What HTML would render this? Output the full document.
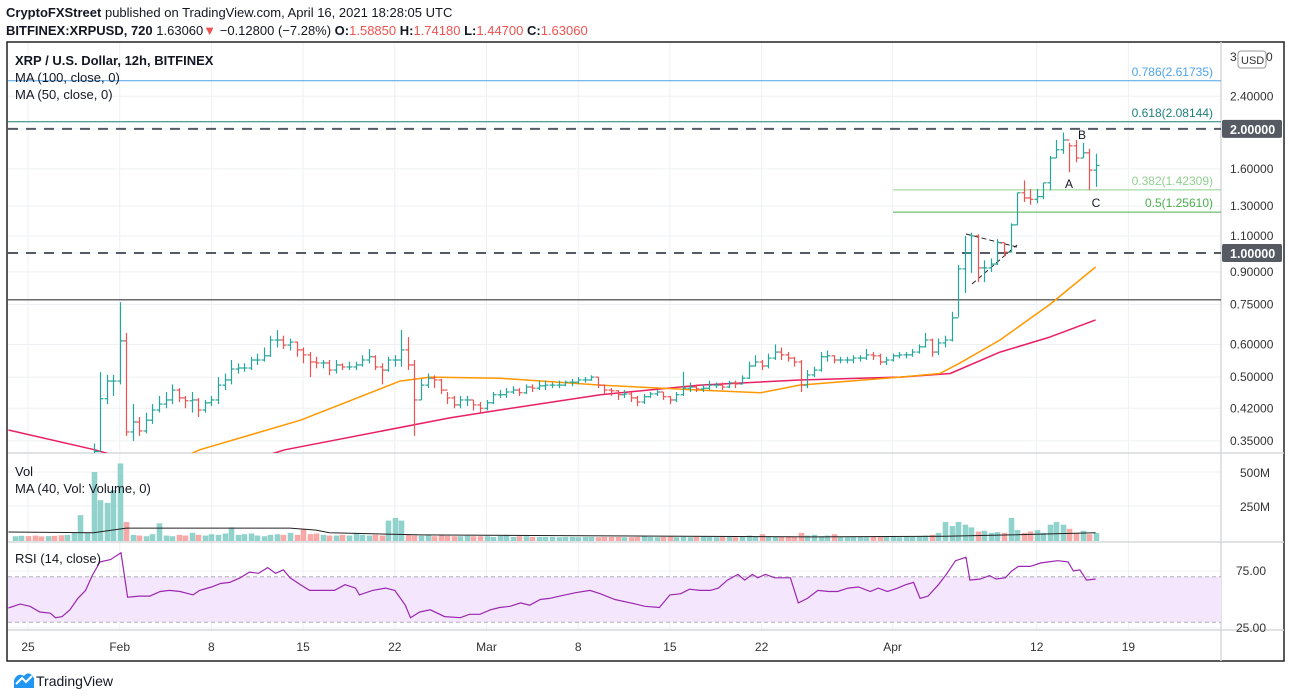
<!DOCTYPE html>
<html><head><meta charset="utf-8"><style>
html,body{margin:0;padding:0;background:#fff;}
svg{display:block;font-family:"Liberation Sans",Arial,sans-serif;}
</style></head><body>
<svg id="chart" width="1291" height="698" viewBox="0 0 1291 698" xmlns="http://www.w3.org/2000/svg">
<defs>
<clipPath id="cp"><rect x="8" y="42" width="1213" height="411"/></clipPath>
<clipPath id="cv"><rect x="8" y="454" width="1213" height="88"/></clipPath>
<clipPath id="cr"><rect x="8" y="543" width="1213" height="87"/></clipPath>
</defs>
<text x="6" y="17" font-size="13" fill="#131722"><tspan font-weight="bold">CryptoFXStreet</tspan> published on TradingView.com, April 16, 2021 18:28:05 UTC</text>
<text x="6" y="35" font-size="13" fill="#131722"><tspan font-weight="bold">BITFINEX:XRPUSD, 720</tspan> 1.63060<tspan fill="#ef5350">▼</tspan> −0.12800 (−7.28%) <tspan font-weight="bold">O:</tspan><tspan fill="#ef5350">1.58850</tspan> <tspan font-weight="bold">H:</tspan><tspan fill="#ef5350">1.74180</tspan> <tspan font-weight="bold">L:</tspan><tspan fill="#ef5350">1.44700</tspan> <tspan font-weight="bold">C:</tspan><tspan fill="#ef5350">1.63060</tspan></text>
<rect x="7" y="42" width="1277" height="619" fill="none" stroke="#222" stroke-width="1.5"/>
<g id="grid"></g>
<g id="panes"></g>
<g id="price" clip-path="url(#cp)"></g>
<g id="vol" clip-path="url(#cv)"></g>
<g id="rsi" clip-path="url(#cr)"></g>
<g id="axes"></g>
<text x="15" y="65" font-size="13" font-weight="bold" fill="#131722">XRP / U.S. Dollar, 12h, BITFINEX</text>
<text x="15" y="82" font-size="13" fill="#131722">MA (100, close, 0)</text>
<text x="15" y="99" font-size="13" fill="#131722">MA (50, close, 0)</text>
<text x="15" y="476" font-size="13" fill="#131722">Vol</text>
<text x="15" y="493" font-size="13" fill="#131722">MA (40, Vol: Volume, 0)</text>
<text x="15" y="563" font-size="13" fill="#131722">RSI (14, close)</text>
<g>
<path d="M14 688 L14 680 Q18 672 24 676 Q29 670 34 678 L34 688 Z" fill="#2196f3"/>
<path d="M16 684 L22 678 L26 682 L32 676" stroke="#fff" stroke-width="2" fill="none"/>
<text x="36" y="686" font-size="14" fill="#131722">TradingView</text>
</g>
</svg>
<script>
// ---- data ----
const lastDay = 81.5; // Apr 16 12:00, days since Jan 25
const closes = [0.28,0.275,0.27,0.265,0.27,0.26,0.255,0.26,0.265,0.27,0.29,0.33,
.443,.489,.489,.612,.368,.389,.37,.393,.416,.43,
.44,.465,.445,.438,.44,.416,.433,.44,.478,.492,
.523,.526,.526,.55,.55,.563,.615,.615,.598,.608,
.582,.566,.544,.541,.541,.52,.535,.529,.529,.535,
.55,.56,.529,.52,.55,.55,.582,.535,.44,.478,
.497,.492,.465,.445,.428,.44,.44,.428,.42,.433,
.453,.453,.46,.465,.458,.473,.47,.476,.478,.478,
.478,.486,.486,.492,.492,.50,.478,.465,.463,.453,
.455,.445,.435,.448,.455,.46,.448,.44,.453,.47,
.473,.468,.47,.478,.478,.473,.484,.481,.497,.532,
.544,.532,.556,.575,.566,.556,.544,.478,.506,.52,
.56,.563,.55,.55,.55,.556,.556,.566,.563,.544,
.55,.563,.566,.566,.575,.592,.615,.575,.605,.615,
.696,.915,1.0,1.10,.92,.92,.94,1.06,1.005,1.17,
1.40,1.36,1.35,1.37,1.48,1.70,1.78,1.88,1.82,1.70,
1.75,1.5885,1.6306];
const highs = [.29,.29,.28,.28,.28,.275,.27,.27,.28,.28,.30,.345,
.514,.506,.506,.76,.64,.43,.40,.41,.43,.45,
.46,.48,.47,.45,.46,.445,.44,.45,.50,.51,
.55,.54,.54,.56,.57,.59,.63,.65,.63,.62,
.61,.59,.575,.56,.55,.55,.55,.54,.545,.545,
.565,.585,.565,.54,.56,.565,.65,.625,.55,.495,
.51,.505,.495,.46,.45,.45,.45,.44,.435,.44,
.46,.465,.47,.475,.47,.48,.48,.49,.49,.485,
.49,.49,.495,.50,.50,.505,.50,.48,.47,.465,
.465,.46,.45,.455,.46,.465,.46,.45,.46,.515,
.485,.48,.48,.49,.485,.485,.49,.49,.505,.545,
.565,.55,.57,.60,.59,.575,.56,.55,.52,.53,
.575,.58,.565,.56,.56,.565,.565,.585,.575,.57,
.56,.57,.575,.575,.585,.60,.64,.62,.62,.63,
.72,.935,1.10,1.12,1.11,.96,.97,1.08,1.06,1.18,
1.40,1.50,1.43,1.43,1.48,1.72,1.88,1.96,1.85,1.88,
1.85,1.79,1.7418];
const lows = [.27,.265,.26,.255,.26,.25,.245,.25,.255,.26,.265,.31,
.33,.43,.45,.48,.36,.35,.36,.365,.385,.41,
.42,.43,.435,.42,.41,.40,.41,.425,.43,.465,
.48,.51,.515,.52,.535,.545,.56,.59,.585,.58,
.56,.54,.50,.525,.525,.505,.51,.52,.52,.52,
.53,.54,.52,.48,.515,.53,.53,.52,.36,.44,
.47,.47,.455,.43,.42,.42,.425,.415,.41,.415,
.43,.445,.445,.455,.45,.455,.46,.465,.465,.47,
.47,.475,.475,.48,.485,.49,.47,.455,.45,.44,
.445,.435,.425,.43,.445,.45,.44,.43,.435,.45,
.46,.46,.46,.465,.47,.465,.47,.47,.48,.495,
.53,.52,.525,.55,.55,.545,.53,.46,.47,.50,
.515,.545,.54,.54,.54,.54,.545,.55,.55,.535,
.535,.545,.555,.555,.56,.57,.59,.56,.565,.59,
.61,.70,.80,.895,.85,.85,.90,.935,.98,1.005,
1.17,1.33,1.31,1.32,1.35,1.42,1.70,1.74,1.57,1.66,
1.70,1.42,1.447];
const volumes = [35,38,36,40,34,36,38,42,45,60,190,60,
507,300,280,375,570,140,45,40,35,50,
130,40,35,45,40,60,45,40,50,45,
55,100,45,50,55,40,35,45,50,45,
60,45,90,50,55,45,40,40,45,40,
60,45,40,45,40,150,170,150,45,40,
38,45,35,40,38,35,35,38,35,35,
35,30,38,45,30,35,35,30,30,30,
30,28,30,30,28,30,30,28,30,30,
30,28,28,30,38,30,28,30,32,28,
30,28,30,32,30,28,30,30,28,30,
40,30,50,35,30,30,35,32,60,40,
45,35,40,50,30,28,30,30,28,30,
30,35,30,28,35,30,35,40,45,60,
140,110,140,120,100,70,75,60,65,60,
170,80,60,70,80,60,120,140,120,90,
60,75,50,60];
const ma100Days = [-1.5,5.1,8.5,15,19.6,32.2,36,43.7,51.3,58.9,66.6,70.4,74.2,78,81.5];
const ma100Vals = [.372,.333,.31,.30,.333,.398,.416,.453,.478,.492,.50,.51,.575,.625,.688];
const ma50Days = [10,13.1,20.8,28.4,30.7,36,43.7,51.3,55.9,58.9,66.6,69.6,71.1,74.2,78,81.5];
const ma50Vals = [.30,.333,.393,.489,.50,.497,.478,.465,.458,.478,.50,.51,.54,.615,.75,.925];
const volMaDays = [-1.5,5,7.5,20,22,23,30,50,60,70,75,81.5];
const volMaVals = [66,60,95,95,80,60,45,35,30,35,45,60];
const rsiDays = [-1.5,-0.6,0.15,0.9,1.7,2.1,2.6,3.2,3.8,4.4,4.9,5.5,6.3,7.1,7.6,8.5,9.3,10.1,10.8,11.6,12.6,13.1,14.0,14.7,15.4,16.2,16.9,17.6,18.3,18.9,19.5,20.0,20.8,21.5,22.3,23.4,24.2,25.0,25.3,26.3,27.3,28.0,28.8,29.2,29.9,30.7,31.8,33.0,33.7,34.5,35.3,36.0,36.8,37.6,38.3,39.1,39.8,40.6,41.8,42.9,43.7,44.8,46.0,47.1,48.2,49.0,49.8,50.5,51.3,52.1,52.7,53.4,54.2,54.7,55.3,55.7,56.3,57.0,58.2,58.8,59.5,60.3,61.1,61.8,62.6,63.4,64.3,64.9,65.6,66.4,67.0,67.6,68.1,68.7,69.5,70.1,70.8,71.6,71.9,72.7,73.4,73.9,74.6,75.1,75.6,76.5,77.3,77.9,78.6,79.4,79.8,80.3,80.8,81.5];
const rsiVals = [42.5,46,44,39,38,34,35,41,51,58,71,83,85,91,52,53,53,57,58,57,54,58,61,64,65,69,74,73,78,73,76,69,63,58,58,58,63,60,54,58,60,58,45,34,39,41,35,34,37,37,41,43,44,47,45,50,51,53,56,58,55,50,47,44,43,54,55,59,58,58,60,67,72,67,72,69,72,69,69,47,51,58,57,57,60,61,57,60,57,60,63,65,51,53,63,72,84,87,67,68,71,68,69,75,79,79,82,83,84,83,75,76,67,68];
const priceTicks = [2.4,2.0,1.6,1.3,1.1,1.0,0.9,0.75,0.6,0.5,0.42,0.35];
const dateTicks = [0,7,14,21,28,35,42,49,56,66,77,84];
const dateLabels = ["25","Feb","8","15","22","Mar","8","15","22","Apr","12","19"];
const fibLevels = [2.61735,2.08144,1.42309,1.2561];
const fibNames = ["0.786","0.618","0.382","0.5"];

// ---- scales ----
const NS="http://www.w3.org/2000/svg";
const xD = d => 28 + 13.1*d;
const yP = p => 253 - 179*Math.log(p);
const yV = v => 541 - v*0.136;
const yR = r => 656.5 - 1.14*r;
const N = closes.length;
const barDay = i => lastDay - (N-1-i)*0.5;
const NV = volumes.length;
const volDay = i => lastDay - (NV-1-i)*0.5;
function mk(parent, tag, attrs, txt){const e=document.createElementNS(NS,tag);for(const k in attrs)e.setAttribute(k,attrs[k]);if(txt!=null)e.textContent=txt;document.getElementById(parent).appendChild(e);return e;}
function fmt(v,d){return v.toFixed(d);}

// grid
dateTicks.forEach((d,k)=>{const g=mk('grid','line',{x1:xD(d),x2:xD(d),y1:43,y2:630,stroke:'#eef0f3','stroke-width':1});

});
priceTicks.forEach(p=>{const g=mk('grid','line',{x1:8,x2:1221,y1:yP(p),y2:yP(p),stroke:'#eef0f3','stroke-width':1});

});
[472,506,571,628].forEach(y=>{const g=mk('grid','line',{x1:8,x2:1221,y1:y,y2:y,stroke:'#eef0f3'});

});

// pane separators
[[8,453,1284,453],[8,542,1284,542],[8,630,1284,630],[1221,42,1221,661]].forEach(a=>{const l=mk('panes','line',{x1:a[0],y1:a[1],x2:a[2],y2:a[3],stroke:'#d6d8dc','stroke-width':1.5});

});

// RSI band
let band=mk('rsi','rect',{x:8,y:yR(70),width:1213,height:yR(30)-yR(70),fill:'#f3e6fd'});


[70,30].forEach(r=>{const l=mk('rsi','line',{x1:8,x2:1221,y1:yR(r),y2:yR(r),stroke:'#b0b0b8','stroke-dasharray':'4,3'});

});

// horizontal level lines
let l1=mk('price','line',{x1:8,x2:1221,y1:yP(fibLevels[0]),y2:yP(fibLevels[0]),stroke:'#4fa3e8','stroke-width':1});


let l2=mk('price','line',{x1:8,x2:1221,y1:yP(fibLevels[1]),y2:yP(fibLevels[1]),stroke:'#1e7f7a','stroke-width':1});


let l3=mk('price','line',{x1:893,x2:1221,y1:yP(fibLevels[2]),y2:yP(fibLevels[2]),stroke:'#8fd08f','stroke-width':1});


let l4=mk('price','line',{x1:893,x2:1221,y1:yP(fibLevels[3]),y2:yP(fibLevels[3]),stroke:'#4caf50','stroke-width':1});


[2.0,1.0].forEach(p=>{const l=mk('price','line',{x1:8,x2:1221,y1:yP(p),y2:yP(p),stroke:'#555a63','stroke-width':2,'stroke-dasharray':'10,8'});

});
let sl=mk('price','line',{x1:8,x2:1221,y1:yP(0.77),y2:yP(0.77),stroke:'#6b6b6b','stroke-width':1.5});



// fib labels
const fibColors=['#4fa3e8','#1e7f7a','#8fd08f','#4caf50'];
fibLevels.forEach((p,k)=>{const t=mk('price','text',{x:1213,y:yP(p)-5,'font-size':12,'text-anchor':'end',fill:fibColors[k]},fibNames[k]+'('+fmt(p,5)+')');

});

// triangle
let t1=mk('price','line',{x1:966,y1:234,x2:1017,y2:247,stroke:'#222','stroke-dasharray':'5,3'});


let t2=mk('price','line',{x1:972,y1:284,x2:1017,y2:245,stroke:'#222','stroke-dasharray':'5,3'});



// moving averages
function linePts(days,vals,yf){return days.map((d,k)=>xD(d).toFixed(1)+','+yf(vals[k]).toFixed(1)).join(' ');}
let m100=mk('price','polyline',{points:linePts(ma100Days,ma100Vals,yP),fill:'none',stroke:'#e91e63','stroke-width':1.5,'stroke-linejoin':'round'});


let m50=mk('price','polyline',{points:linePts(ma50Days,ma50Vals,yP),fill:'none',stroke:'#ff9800','stroke-width':1.5,'stroke-linejoin':'round'});



// OHLC bars
for(let i=0;i<N;i++){
  const o = i>0?closes[i-1]:closes[0], c=closes[i];
  const up = c>=o;
  const col = up?'#26a69a':'#ef5350';
  const x = Math.round(xD(barDay(i)))+0.5;
  const g=mk('price','g',{stroke:col,'stroke-width':1.2});
  
  
  const a=document.createElementNS(NS,'line');a.setAttribute('x1',x);a.setAttribute('x2',x);a.setAttribute('y1',yP(highs[i]));a.setAttribute('y2',yP(lows[i]));g.appendChild(a);
  const b=document.createElementNS(NS,'line');b.setAttribute('x1',x-3);b.setAttribute('x2',x);b.setAttribute('y1',yP(o));b.setAttribute('y2',yP(o));g.appendChild(b);
  const d=document.createElementNS(NS,'line');d.setAttribute('x1',x);d.setAttribute('x2',x+3);d.setAttribute('y1',yP(c));d.setAttribute('y2',yP(c));g.appendChild(d);
}
// volume bars
for(let i=0;i<NV;i++){
  const j = i-(NV-N);
  let up=true;
  if(j>0 && j<N) up = closes[j]>=closes[j-1];
  const x = Math.round(xD(volDay(i)))+0.5;
  const vb=mk('vol','rect',{x:x-2.8,y:yV(volumes[i]),width:5.6,height:541-yV(volumes[i]),fill:up?'#92d2cc':'#f7a9a7'});
  
  
}
let vma=mk('vol','polyline',{points:linePts(volMaDays,volMaVals,yV),fill:'none',stroke:'#222','stroke-width':1});


let rl=mk('rsi','polyline',{points:linePts(rsiDays,rsiVals,yR),fill:'none',stroke:'#9c27b0','stroke-width':1.2});



// wave labels
[['A',1069,188],['B',1082,139],['C',1096,207]].forEach(w=>{const t=mk('price','text',{x:w[1],y:w[2],'font-size':12,'text-anchor':'middle',fill:'#131722'},w[0]);

});

// axis labels
priceTicks.forEach(p=>{
  const y=yP(p);
  if(p===2.0||p===1.0){
    const r=mk('axes','rect',{x:1222,y:y-9,width:60,height:18,rx:2,fill:'#555a63'});
    
    
    const t=mk('axes','text',{x:1230,y:y+5,'font-size':12.5,'font-weight':'bold',fill:'#fff'},fmt(p,5));
    
    
  } else {
    const t=mk('axes','text',{x:1230,y:y+4,'font-size':12,fill:'#333'},fmt(p,5));
    
    
  }
});
let top3=mk('axes','text',{x:1230,y:61,'font-size':12,fill:'#333'},'3');


let top0=mk('axes','text',{x:1266,y:61,'font-size':12,fill:'#333'},'0');


let ub=mk('axes','rect',{x:1238,y:51,width:28,height:17,rx:3,fill:'#fff',stroke:'#999'});


let ut=mk('axes','text',{x:1241,y:64,'font-size':11,fill:'#333'},'USD');


[['500M',500],['250M',250]].forEach(v=>{const t=mk('axes','text',{x:1240,y:yV(v[1])+4,'font-size':12,fill:'#333'},v[0]);

});
[['75.00',75],['25.00',25]].forEach(v=>{const t=mk('axes','text',{x:1236,y:yR(v[1])+4,'font-size':12,fill:'#333'},v[0]);

});
dateTicks.forEach((d,k)=>{const t=mk('axes','text',{x:xD(d),y:651,'font-size':12,'text-anchor':'middle',fill:'#333'},dateLabels[k]);

});
</script>
</body></html>
